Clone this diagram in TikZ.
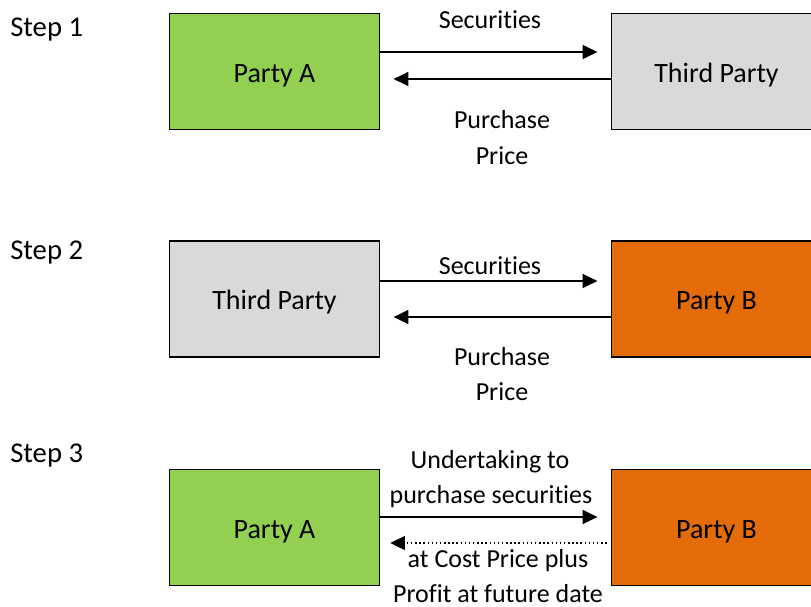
\documentclass[tikz,border=0pt]{standalone}
\usepackage{fontspec}
\setmainfont{Carlito}[Ligatures={NoCommon}]
\usetikzlibrary{arrows.meta}
\definecolor{pgreen}{HTML}{92D050}
\definecolor{pgray}{HTML}{D9D9D9}
\definecolor{porange}{HTML}{E36C09}
\tikzset{
  box/.style={draw=black, line width=1.2pt, minimum width=157.5pt, minimum height=87pt, inner sep=0pt, text height=19pt, text depth=3pt, font=\fontsize{21}{25}\selectfont},
  lbl/.style={inner sep=0pt, font=\fontsize{19.5}{23}\selectfont},
  steplbl/.style={inner sep=0pt, anchor=west, font=\fontsize{21.5}{25}\selectfont},
  arr/.style={line width=1.1pt, -{Triangle[length=11pt,width=10.5pt]}},
  darr/.style={line width=1.1pt, dotted, -{Triangle[length=11pt,width=10.5pt]}}
}
\begin{document}
\begin{tikzpicture}[x=0.75pt,y=-0.75pt]
\clip (0,0) rectangle (811,607);
\fill[white] (0,0) rectangle (811,607);
% Step 1
\node[steplbl] (s1) at (10,30) {Step 1};
\node[box, fill=pgreen] (a1) at (274.5,71.5) {Party A};
\node[box, fill=pgray] (t1) at (716.5,71.5) {Third Party};
\node[lbl] (l1a) at (490,20) {Securities};
\node[lbl] (l1b) at (502,120) {Purchase};
\node[lbl] (l1c) at (502,156) {Price};
\draw[arr, shorten >=10pt] (a1.east |- 0,52) -- (t1.west |- 0,52);
\draw[arr, shorten >=10pt] (t1.west |- 0,79) -- (a1.east |- 0,79);
% Step 2
\node[steplbl] (s2) at (10,253) {Step 2};
\node[box, fill=pgray] (t2) at (274.5,299) {Third Party};
\node[box, fill=porange] (b2) at (716.5,299) {Party B};
\node[lbl] (l2a) at (490,266) {Securities};
\node[lbl] (l2b) at (502,357) {Purchase};
\node[lbl] (l2c) at (502,392) {Price};
\draw[arr, shorten >=10pt] (t2.east |- 0,281) -- (b2.west |- 0,281);
\draw[arr, shorten >=10pt] (b2.west |- 0,317) -- (t2.east |- 0,317);
% Step 3
\node[steplbl] (s3) at (10,456) {Step 3};
\node[box, fill=pgreen] (a3) at (274.5,527.5) {Party A};
\node[box, fill=porange] (b3) at (716.5,527.5) {Party B};
\node[lbl] (l3a) at (490,462) {Undertaking to};
\node[lbl] (l3b) at (491,497) {purchase securities};
\node[lbl] (l3c) at (498,560.5) {at Cost Price plus};
\node[lbl] (l3d) at (498,594) {Profit at future date};
\draw[arr, shorten >=10pt] (a3.east |- 0,517) -- (b3.west |- 0,517);
\draw[darr, shorten <=3pt, shorten >=7.5pt] (b3.west |- 0,543) -- (a3.east |- 0,543);
\end{tikzpicture}
\end{document}
